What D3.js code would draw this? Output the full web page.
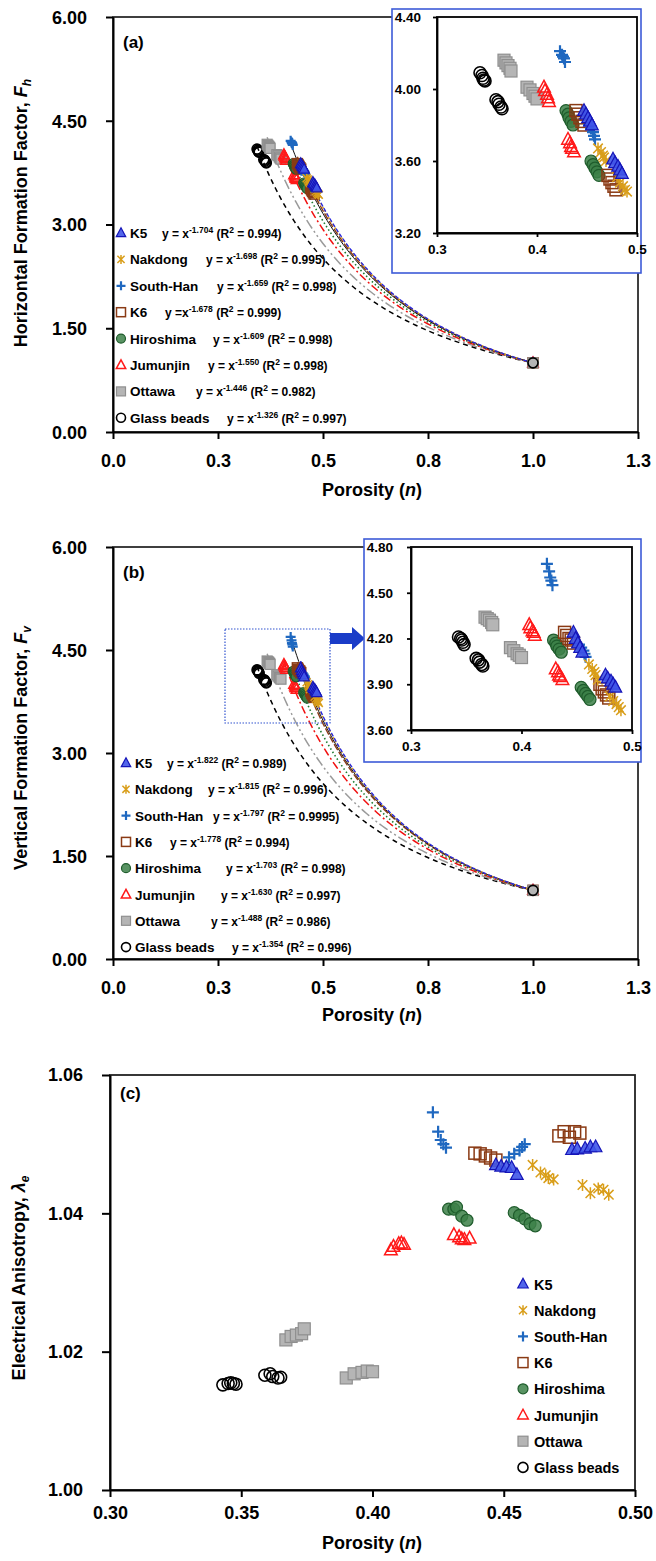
<!DOCTYPE html>
<html><head><meta charset="utf-8">
<script src="https://cdn.jsdelivr.net/npm/d3@7"></script>
<style>
body{margin:0;background:#fff;}
svg text{font-family:"Liberation Sans",Arial,Helvetica,sans-serif;font-weight:bold;fill:#000;}
</style></head><body>
<svg id="fig" width="656" height="1561"></svg>
<script>
// ---------------- data ----------------
const materials = ["K5","Nakdong","South-Han","K6","Hiroshima","Jumunjin","Ottawa","Glass beads"];

// porosity n of each specimen
const nK5   = [0.447,0.449,0.451,0.453,0.455, 0.476,0.478,0.481,0.483,0.485];
const nNak  = [0.461,0.464,0.466,0.467,0.469, 0.480,0.483,0.486,0.488,0.490];
const nSH   = [0.423,0.425,0.426,0.427,0.428, 0.452,0.454,0.456,0.457,0.458];
const nK6   = [0.439,0.441,0.443,0.445,0.447, 0.471,0.473,0.475,0.477,0.479];
const nHir  = [0.429,0.431,0.432,0.434,0.436, 0.454,0.456,0.458,0.460,0.462];
const nJum  = [0.407,0.408,0.410,0.411,0.412, 0.431,0.433,0.434,0.435,0.437];
const nOtt  = [0.367,0.369,0.371,0.373,0.374, 0.390,0.393,0.396,0.398,0.400];
const nGB   = [0.343,0.345,0.346,0.347,0.348, 0.359,0.361,0.362,0.364,0.365];

// horizontal formation factor Fh
const fhK5  = [3.88,3.86,3.84,3.82,3.80, 3.61,3.59,3.57,3.55,3.53];
const fhNak = [3.67,3.65,3.63,3.62,3.60, 3.51,3.48,3.46,3.44,3.43];
const fhSH  = [4.21,4.19,4.18,4.17,4.15, 3.80,3.78,3.76,3.74,3.72];
const fhK6  = [3.88,3.86,3.84,3.82,3.80, 3.52,3.50,3.48,3.46,3.44];
const fhHir = [3.88,3.86,3.84,3.82,3.80, 3.60,3.58,3.56,3.54,3.52];
const fhJum = [4.01,3.99,3.97,3.95,3.93, 3.72,3.70,3.68,3.67,3.65];
const fhOtt = [4.16,4.145,4.13,4.115,4.10, 4.01,3.995,3.975,3.96,3.945];
const fhGB  = [4.09,4.075,4.06,4.05,4.045, 3.94,3.93,3.915,3.90,3.89];

// vertical formation factor Fv
const fvK5  = [4.24,4.20,4.17,4.14,4.11, 3.96,3.94,3.92,3.90,3.88];
const fvNak = [4.03,4.00,3.98,3.96,3.93, 3.82,3.79,3.77,3.75,3.73];
const fvSH  = [4.69,4.64,4.60,4.58,4.55, 4.16,4.14,4.12,4.10,4.08];
const fvK6  = [4.24,4.22,4.20,4.19,4.17, 3.90,3.87,3.85,3.83,3.81];
const fvHir = [4.19,4.17,4.15,4.13,4.11, 3.88,3.86,3.84,3.82,3.80];
const fvJum = [4.29,4.27,4.25,4.24,4.22, 4.00,3.98,3.96,3.95,3.93];
const fvOtt = [4.34,4.33,4.32,4.305,4.29, 4.14,4.12,4.10,4.09,4.075];
const fvGB  = [4.21,4.20,4.19,4.175,4.16, 4.07,4.06,4.045,4.03,4.02];

// electrical anisotropy lambda_e
const aeK5  = [1.0470,1.0468,1.0467,1.0466,1.0456, 1.0492,1.0493,1.0494,1.0496,1.0496];
const aeNak = [1.0470,1.0459,1.0455,1.0451,1.0449, 1.0441,1.0429,1.0436,1.0434,1.0427];
const aeSH  = [1.0546,1.0518,1.0506,1.0500,1.0495, 1.0481,1.0486,1.0491,1.0496,1.0500];
const aeK6  = [1.0487,1.0486,1.0483,1.0480,1.0477, 1.0512,1.0518,1.0510,1.0518,1.0516];
const aeHir = [1.0406,1.0406,1.0409,1.0396,1.0390, 1.0401,1.0397,1.0392,1.0385,1.0382];
const aeJum = [1.0347,1.0352,1.0356,1.0357,1.0355, 1.0369,1.0366,1.0363,1.0362,1.0364];
const aeOtt = [1.0217,1.0222,1.0224,1.0226,1.0233, 1.0162,1.0168,1.0170,1.0172,1.0171];
const aeGB  = [1.0152,1.0154,1.0155,1.0154,1.0153, 1.0166,1.0168,1.0164,1.0162,1.0163];

// fitted power laws F = n^-m
const expFh = [1.704,1.698,1.659,1.678,1.609,1.550,1.446,1.326];
const r2Fh  = [0.994,0.995,0.998,0.999,0.998,0.998,0.982,0.997];
const expFv = [1.822,1.815,1.797,1.778,1.703,1.630,1.488,1.354];
const r2Fv  = [0.989,0.996,0.9995,0.994,0.998,0.997,0.986,0.996];
const eqLeadFh = ["y = x","y = x","y = x","y =x","y = x","y = x","y = x","y = x"];
const eqLeadFv = ["y = x","y = x","y = x","y = x","y = x","y = x","y = x","y = x"];

// reference point shared by every material: n = 1, F = 1
const refN = 1.0, refF = 1.0;

// ticks
const xTicksMain = [0,0.25,0.5,0.75,1.0,1.25];
const xTickLabelsMain = ["0.0","0.3","0.5","0.8","1.0","1.3"];
const yTicksMain = [0,1.5,3,4.5,6];
const xTicksInset = [0.3,0.4,0.5];
const yTicksInsetA = [3.2,3.6,4.0,4.4];
const yTicksInsetB = [3.6,3.9,4.2,4.5,4.8];
const xTicksC = [0.30,0.35,0.40,0.45,0.50];
const yTicksC = [1.00,1.02,1.04,1.06];

const porosity = [nK5,nNak,nSH,nK6,nHir,nJum,nOtt,nGB];
const fh = [fhK5,fhNak,fhSH,fhK6,fhHir,fhJum,fhOtt,fhGB];
const fv = [fvK5,fvNak,fvSH,fvK6,fvHir,fvJum,fvOtt,fvGB];
const ae = [aeK5,aeNak,aeSH,aeK6,aeHir,aeJum,aeOtt,aeGB];

// ---------------- styles ----------------
const looks = [
  {sym:"triangle", stroke:"#1515b8", fill:"#3f55e8", fo:0.9, sw:1.2, curve:"#2a2ae0", dash:"4,2", cw:1.4},
  {sym:"asterisk", stroke:"#d99e1a", fill:"none", sw:1.5, curve:"#d99e1a", dash:"2,2", cw:1.4},
  {sym:"plus",     stroke:"#1f68c0", fill:"none", sw:2.2, curve:"#111111", dash:null, cw:1.0},
  {sym:"square",   stroke:"#8a3a14", fill:"none", sw:1.5, curve:"#8a3a14", dash:"7,2", cw:1.4},
  {sym:"circle",   stroke:"#1f5c2c", fill:"#3c8048", fo:0.85, sw:1.2, curve:"#1f7a30", dash:"1.5,2.5", cw:1.6},
  {sym:"triangle", stroke:"#ff1a1a", fill:"none", sw:1.5, curve:"#f01010", dash:"8,3,2,3", cw:1.5},
  {sym:"square",   stroke:"#8f8f8f", fill:"#b5b5b5", fo:1, sw:1.2, curve:"#9a9a9a", dash:"10,3,2,3,2,3", cw:1.5},
  {sym:"circle",   stroke:"#000000", fill:"none", sw:1.6, curve:"#000000", dash:"5,4", cw:1.5}
];
const FONT = "'Liberation Sans',Arial,sans-serif";
const svg = d3.select("#fig");
const drawOrder = d3.range(materials.length).reverse();

function drawMarker(g, look, x, y, size) {
  const r = size / 2;
  let el;
  if (look.sym === "circle") {
    el = g.append("circle").attr("cx", x).attr("cy", y).attr("r", r);
  } else if (look.sym === "square") {
    el = g.append("rect").attr("x", x - r).attr("y", y - r).attr("width", size).attr("height", size);
  } else if (look.sym === "triangle") {
    el = g.append("path").attr("d", `M${x},${y - r * 1.15}L${x + r * 1.05},${y + r * 0.8}L${x - r * 1.05},${y + r * 0.8}Z`);
  } else if (look.sym === "plus") {
    el = g.append("path").attr("d", `M${x - r},${y}H${x + r}M${x},${y - r}V${y + r}`);
  } else {
    const k = r * 0.8;
    el = g.append("path").attr("d", `M${x - k},${y - k}L${x + k},${y + k}M${x - k},${y + k}L${x + k},${y - k}M${x},${y - r}V${y + r}`);
  }
  el.attr("stroke", look.stroke).attr("stroke-width", look.sw)
    .attr("fill", look.fill || "none").attr("fill-opacity", look.fo == null ? 1 : look.fo);
}

function styleAxis(sel, fontSize, lw) {
  sel.selectAll("path.domain").attr("stroke", "#000").attr("stroke-width", lw);
  sel.selectAll(".tick line").attr("stroke", "#000").attr("stroke-width", lw);
  sel.selectAll(".tick text").attr("font-size", fontSize).attr("font-family", FONT).attr("font-weight", "bold").attr("fill", "#000");
}

function frame(g, L, T, R, B, w, col) {
  g.append("rect").attr("x", L).attr("y", T).attr("width", R - L).attr("height", B - T)
    .attr("fill", "none").attr("stroke", col || "#000").attr("stroke-width", w);
}

function yTitle(g, x, y, main, sym, sub) {
  const t = g.append("text").attr("transform", `translate(${x},${y}) rotate(-90)`)
    .attr("text-anchor", "middle").attr("font-size", 18);
  t.append("tspan").text(main);
  t.append("tspan").attr("font-style", "italic").text(sym);
  t.append("tspan").attr("font-style", "italic").attr("font-size", 12).attr("dy", 4).text(sub);
}

function xTitle(g, x, y) {
  const t = g.append("text").attr("x", x).attr("y", y).attr("text-anchor", "middle").attr("font-size", 18);
  t.append("tspan").text("Porosity (");
  t.append("tspan").attr("font-style", "italic").text("n");
  t.append("tspan").text(")");
}

function eqText(g, x, y, lead, m, r2) {
  const t = g.append("text").attr("x", x).attr("y", y).attr("font-size", 12);
  t.append("tspan").text(lead);
  t.append("tspan").attr("dy", -5).attr("font-size", 8.5).text("-" + m.toFixed(3));
  t.append("tspan").attr("dy", 5).text(" (R");
  t.append("tspan").attr("dy", -5).attr("font-size", 8.5).text("2");
  t.append("tspan").attr("dy", 5).text(" = " + String(r2) + ")");
}

// ---------------- formation factor panel ----------------
function mainPanel(o) {
  const g = svg.append("g");
  const x = d3.scaleLinear().domain([0, 1.25]).range([o.L, o.R]);
  const y = d3.scaleLinear().domain([0, 6]).range([o.B, o.T]);
  frame(g, o.L, o.T, o.R, o.B, 1.5);

  const ax = g.append("g").attr("transform", `translate(0,${o.B})`)
    .call(d3.axisBottom(x).tickValues(xTicksMain).tickFormat((d, i) => xTickLabelsMain[i]).tickSize(7).tickSizeOuter(0).tickPadding(15));
  styleAxis(ax, 18, 2);
  const ay = g.append("g").attr("transform", `translate(${o.L},0)`)
    .call(d3.axisLeft(y).tickValues(yTicksMain).tickFormat(d3.format(".2f")).tickSize(7).tickSizeOuter(0).tickPadding(19));
  styleAxis(ay, 18, 2);
  ay.selectAll(".tick text").attr("dy", "0.35em");

  // fitted curves
  const line = d3.line().x(d => x(d[0])).y(d => y(d[1]));
  drawOrder.forEach(i => {
    const n0 = d3.min(porosity[i]);
    const pts = d3.range(0, 121).map(k => {
      const n = n0 + (refN - n0) * k / 120;
      return [n, Math.pow(n, -o.exps[i])];
    });
    g.append("path").attr("d", line(pts)).attr("fill", "none")
      .attr("stroke", looks[i].curve).attr("stroke-width", looks[i].cw)
      .attr("stroke-dasharray", looks[i].dash);
  });
  // specimens
  drawOrder.forEach(i => {
    porosity[i].forEach((n, j) => drawMarker(g, looks[i], x(n), y(o.vals[i][j]), 10));
  });
  materials.forEach((m, i) => drawMarker(g, looks[i], x(refN), y(refF), 10));

  // legend with fitted equations
  materials.forEach((m, i) => {
    const cy = o.legY + i * o.legStep;
    drawMarker(g, looks[i], o.legMX, cy, 9);
    g.append("text").attr("x", o.legTX).attr("y", cy + 5).attr("font-size", 13.5).text(m);
    eqText(g, o.eqX[i], cy + 5, o.leads[i], o.exps[i], o.r2[i]);
  });

  g.append("text").attr("x", o.L + 10).attr("y", o.T + 31).attr("font-size", 17).text(o.tag);
  yTitle(g, 27, o.titleY, o.title, "F", o.sub);
  xTitle(g, 372, o.xTitleY);
  return g;
}

// ---------------- zoomed inset ----------------
function inset(o) {
  const g = svg.append("g");
  g.append("rect").attr("x", o.bx).attr("y", o.by).attr("width", o.bw).attr("height", o.bh)
    .attr("fill", "#fff").attr("stroke", "#3d5bd8").attr("stroke-width", 1.6);
  const x = d3.scaleLinear().domain([0.3, 0.5]).range([o.L, o.R]);
  const y = d3.scaleLinear().domain(o.yDom).range([o.B, o.T]);
  frame(g, o.L, o.T, o.R, o.B, 1.8);
  const ax = g.append("g").attr("transform", `translate(0,${o.B})`)
    .call(d3.axisBottom(x).tickValues(xTicksInset).tickFormat(d3.format(".1f")).tickSize(4).tickSizeOuter(0).tickPadding(7));
  styleAxis(ax, 13.5, 1.8);
  const ay = g.append("g").attr("transform", `translate(${o.L},0)`)
    .call(d3.axisLeft(y).tickValues(o.yTicks).tickFormat(d3.format(".2f")).tickSize(4).tickSizeOuter(0).tickPadding(o.yPad));
  styleAxis(ay, 13.5, 1.8);
  drawOrder.forEach(i => {
    porosity[i].forEach((n, j) => drawMarker(g, looks[i], x(n), y(o.vals[i][j]), 12));
  });
}

// ---------------- panel (a) ----------------
mainPanel({L:113, R:638, T:17, B:432, vals:fh, exps:expFh, r2:r2Fh, leads:eqLeadFh,
  legY:233, legStep:26.4, legMX:121, legTX:130, eqX:[162,206,217,165,213,208,196,227],
  tag:"(a)", title:"Horizontal Formation Factor, ", sub:"h", titleY:213, xTitleY:496});
inset({bx:392, by:9, bw:249, bh:264, L:437, R:637, T:17, B:233, yDom:[3.2,4.4], yTicks:yTicksInsetA, yPad:12, vals:fh});

// ---------------- panel (b) ----------------
mainPanel({L:113, R:638, T:547, B:959, vals:fv, exps:expFv, r2:r2Fv, leads:eqLeadFv,
  legY:763, legStep:26.3, legMX:126, legTX:135, eqX:[167,208,213,170,226,221,211,232],
  tag:"(b)", title:"Vertical Formation Factor, ", sub:"v", titleY:748, xTitleY:1021});
// zoom window marker and arrow
svg.append("rect").attr("x", 225).attr("y", 629).attr("width", 105).attr("height", 94)
  .attr("fill", "none").attr("stroke", "#3355d0").attr("stroke-width", 1.2).attr("stroke-dasharray", "1.5,1.5");
svg.append("path").attr("d", "M330,633H352V627L365,638.5L352,650V644H330Z").attr("fill", "#1a3cc8");
inset({bx:364, by:539, bw:277, bh:223, L:411, R:632, T:547, B:730, yDom:[3.6,4.8], yTicks:yTicksInsetB, yPad:14, vals:fv});

// ---------------- panel (c) ----------------
(function () {
  const L = 110, R = 635, T = 1075, B = 1490;
  const g = svg.append("g");
  const x = d3.scaleLinear().domain([0.30, 0.50]).range([L, R]);
  const y = d3.scaleLinear().domain([1.00, 1.06]).range([B, T]);
  frame(g, L, T, R, B, 1.8, "#222");
  const ax = g.append("g").attr("transform", `translate(0,${B})`)
    .call(d3.axisBottom(x).tickValues(xTicksC).tickFormat(d3.format(".2f")).tickSize(7).tickSizeOuter(0).tickPadding(9));
  styleAxis(ax, 18, 2);
  const ay = g.append("g").attr("transform", `translate(${L},0)`)
    .call(d3.axisLeft(y).tickValues(yTicksC).tickFormat(d3.format(".2f")).tickSize(8).tickSizeOuter(0).tickPadding(19));
  styleAxis(ay, 18, 2);
  drawOrder.forEach(i => {
    porosity[i].forEach((n, j) => drawMarker(g, looks[i], x(n), y(ae[i][j]), 12));
  });
  materials.forEach((m, i) => {
    const cy = 1284 + i * 26.2;
    drawMarker(g, looks[i], 523, cy, 10);
    g.append("text").attr("x", 534).attr("y", cy + 5.5).attr("font-size", 14.5).text(m);
  });
  g.append("text").attr("x", L + 10).attr("y", T + 24).attr("font-size", 17).text("(c)");
  yTitle(g, 25, 1278, "Electrical Anisotropy, ", "λ", "e");
  xTitle(g, 372, 1549);
})();
</script>
</body></html>
